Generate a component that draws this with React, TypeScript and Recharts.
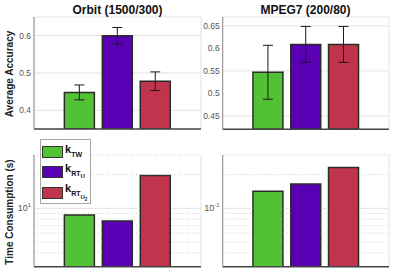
import React from "react";
import { BarChart, Bar, Cell, XAxis, YAxis, CartesianGrid, ErrorBar, Legend, ReferenceLine } from "recharts";

// Methods and where they sit on the x axis (grid lines at 0..4)
const methods = ["k_TW", "k_RT_U", "k_RT_U2"];
const methodPos = [1, 2, 3];
const xTicks = [0, 1, 2, 3, 4];
const xDomain: [number, number] = [-0.2, 4.2];
const colors = ["#52C234", "#5A00B4", "#C0344E"];

// Average accuracy (mean, +/- error)
const orbitAcc = [0.448, 0.6, 0.478];
const orbitErr = [0.02, 0.022, 0.025];
const mpegAcc = [0.547, 0.609, 0.609];
const mpegErr = [0.06, 0.04, 0.04];

// Time consumption (s), log scale
const orbitTime = [8.7, 7.7, 19.7];
const mpegTime = [0.142, 0.165, 0.232];

const orbitAccTicks = [0.4, 0.5, 0.6];
const mpegAccTicks = [0.45, 0.5, 0.55, 0.6, 0.65];
const orbitTimeMajor = [10];
const orbitTimeMinor = [4, 5, 6, 7, 8, 9, 20, 30];
const mpegTimeMajor = [0.1];
const mpegTimeMinor = [0.04, 0.05, 0.06, 0.07, 0.08, 0.09, 0.2, 0.3];

const FONT = '"Liberation Sans", Arial, Helvetica, sans-serif';
const TICK_COLOR = "#555";
const HALF_BAR = 0.41; // half of the bar width in x units (band 1, gap 10%)

function rows(values: number[], errs?: number[]) {
  return values.map((v, i) => ({
    pos: methodPos[i],
    name: methods[i],
    value: v,
    err: errs ? errs[i] : 0,
  }));
}

// pieces of a horizontal grid line at y that are not hidden behind a bar
function gridSegments(y: number, values: number[]) {
  const segs: [number, number][] = [];
  let start = xDomain[0];
  methodPos.forEach((pos, i) => {
    if (values[i] > y) {
      segs.push([start, pos - HALF_BAR]);
      start = pos + HALF_BAR;
    }
  });
  segs.push([start, xDomain[1]]);
  return segs.filter(([a, b]) => b > a);
}

const LogTick = (exp: string) => (props: any) => {
  const { x, y } = props;
  return (
    <text x={x} y={y} dy={3} textAnchor="end" fontSize={9} fill={TICK_COLOR} fontFamily={FONT}>
      <tspan>10</tspan>
      <tspan dy={-4} fontSize={6}>{exp}</tspan>
    </text>
  );
};

function LegendBox() {
  const label = (i: number) => {
    if (i === 0)
      return (
        <span>
          <b style={{ fontSize: 11 }}>k</b>
          <sub style={{ fontSize: 7, fontWeight: "bold" }}>TW</sub>
        </span>
      );
    if (i === 1)
      return (
        <span>
          <b style={{ fontSize: 11 }}>k</b>
          <sub style={{ fontSize: 7, fontWeight: "bold" }}>
            RT<sub style={{ fontSize: 6 }}>U</sub>
          </sub>
        </span>
      );
    return (
      <span>
        <b style={{ fontSize: 11 }}>k</b>
        <sub style={{ fontSize: 7, fontWeight: "bold" }}>
          RT
          <sub style={{ fontSize: 6 }}>
            U<sub style={{ fontSize: 4.5 }}>2</sub>
          </sub>
        </sub>
      </span>
    );
  };
  const rowH = [19, 21, 26];
  return (
    <div
      style={{
        background: "#fff",
        border: "1px solid #a6a6a6",
        width: 51,
        height: 65,
        boxSizing: "border-box",
        padding: "2px 0 0 1px",
        fontFamily: FONT,
        color: "#111",
      }}
    >
      {methods.map((m, i) => (
        <div key={m} style={{ display: "flex", alignItems: i === 2 ? "flex-start" : "center", height: rowH[i], lineHeight: "10px" }}>
          <div
            style={{
              width: 21,
              height: 12,
              background: colors[i],
              border: "1px solid #333",
              boxSizing: "border-box",
              marginRight: 2,
              marginTop: i === 2 ? 5 : 0,
            }}
          />
          {label(i)}
        </div>
      ))}
    </div>
  );
}

interface PanelProps {
  values: number[];
  errs?: number[];
  left: number;
  top: number;
  width: number;
  height: number;
  marginTop: number;
  yAxisWidth: number;
  xAxisHeight: number;
  domain: [number, number];
  log?: boolean;
  ticks: number[];
  minor?: number[];
  exp?: string;
  legend?: boolean;
}

function Panel(p: PanelProps) {
  const data = rows(p.values, p.errs);
  return (
    <div style={{ position: "absolute", left: p.left, top: p.top }}>
      <BarChart
        width={p.width}
        height={p.height}
        data={data}
        margin={{ top: p.marginTop, right: 4, bottom: 0, left: 0 }}
        barCategoryGap="10%"
      >
        <CartesianGrid stroke="#e3e3e3" vertical horizontal={!p.log} />
        {p.log &&
          (p.minor || []).flatMap((v) =>
            gridSegments(v, p.values).map(([a, b]) => (
              <ReferenceLine
                key={`m${v}-${a}`}
                segment={[{ x: a, y: v }, { x: b, y: v }]}
                stroke="#cccccc"
                strokeDasharray="1 2"
              />
            ))
          )}
        {p.log &&
          p.ticks.flatMap((v) =>
            gridSegments(v, p.values).map(([a, b]) => (
              <ReferenceLine
                key={`M${v}-${a}`}
                segment={[{ x: a, y: v }, { x: b, y: v }]}
                stroke="#e0e0e0"
              />
            ))
          )}
        <XAxis
          dataKey="pos"
          type="number"
          domain={xDomain}
          ticks={xTicks}
          tick={false}
          tickLine={false}
          height={p.xAxisHeight}
          axisLine={{ stroke: "#444", strokeWidth: 1.5 }}
          allowDataOverflow
        />
        <YAxis
          type="number"
          scale={p.log ? "log" : "auto"}
          domain={p.domain}
          ticks={p.ticks}
          allowDataOverflow
          width={p.yAxisWidth}
          tickLine={false}
          tickSize={2}
          tickMargin={1}
          axisLine={{ stroke: "#8c8c8c", strokeWidth: 1 }}
          tick={p.log ? LogTick(p.exp || "") : { fontSize: 8.5, fill: TICK_COLOR, fontFamily: FONT }}
          tickFormatter={(v) => String(v)}
        />
        {p.legend && (
          <Legend
            layout="vertical"
            align="center"
            verticalAlign="middle"
            wrapperStyle={{ left: 40, top: 4, width: 53, height: 66 }}
            content={() => <LegendBox />}
          />
        )}
        <Bar dataKey="value" stroke="#2b2b2b" strokeWidth={1.5} isAnimationActive={false}>
          {data.map((d, i) => (
            <Cell key={d.name} fill={colors[i]} />
          ))}
          {p.errs && (
            <ErrorBar dataKey="err" width={5} stroke="#1a1a1a" strokeWidth={1} direction="y" />
          )}
        </Bar>
      </BarChart>
    </div>
  );
}

const titleStyle: React.CSSProperties = {
  position: "absolute",
  top: 3,
  transform: "translateX(-50%)",
  fontFamily: FONT,
  fontWeight: "bold",
  fontSize: 12,
  color: "#111",
  whiteSpace: "nowrap",
  lineHeight: "14px",
};

const ylabelStyle: React.CSSProperties = {
  position: "absolute",
  left: 9.5,
  transform: "translate(-50%, -50%) rotate(-90deg)",
  fontFamily: FONT,
  fontWeight: "bold",
  fontSize: 10,
  color: "#222",
  whiteSpace: "nowrap",
  lineHeight: "12px",
};

export default function App() {
  return (
    <div style={{ position: "absolute", left: 0, top: 0, width: 393, height: 273, background: "#fff", overflow: "hidden" }}>
      <Panel
        values={orbitAcc}
        errs={orbitErr}
        left={0}
        top={0}
        width={205}
        height={140}
        marginTop={17}
        yAxisWidth={34}
        xAxisHeight={11}
        domain={[0.35, 0.65]}
        ticks={orbitAccTicks}
      />
      <Panel
        values={mpegAcc}
        errs={mpegErr}
        left={190}
        top={0}
        width={203}
        height={140}
        marginTop={17}
        yAxisWidth={32.7}
        xAxisHeight={10.7}
        domain={[0.42, 0.67]}
        ticks={mpegAccTicks}
      />
      <Panel
        values={orbitTime}
        left={0}
        top={135}
        width={205}
        height={138}
        marginTop={20}
        yAxisWidth={34}
        xAxisHeight={6.3}
        domain={[3, 30]}
        log
        ticks={orbitTimeMajor}
        minor={orbitTimeMinor}
        exp="1"
        legend
      />
      <Panel
        values={mpegTime}
        left={190}
        top={135}
        width={203}
        height={138}
        marginTop={20}
        yAxisWidth={32.7}
        xAxisHeight={6.3}
        domain={[0.03, 0.3]}
        log
        ticks={mpegTimeMajor}
        minor={mpegTimeMinor}
        exp="-1"
      />
      <div style={{ ...titleStyle, left: 117.5 }}>Orbit (1500/300)</div>
      <div style={{ ...titleStyle, left: 305.5 }}>MPEG7 (200/80)</div>
      <div style={{ ...ylabelStyle, top: 73.5 }}>Average Accuracy</div>
      <div style={{ ...ylabelStyle, top: 212 }}>Time Consumption (s)</div>
    </div>
  );
}
